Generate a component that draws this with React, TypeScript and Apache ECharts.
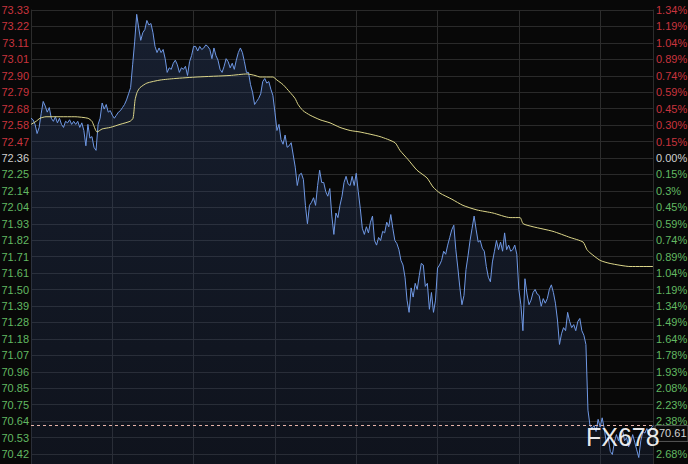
import React, { useEffect, useRef } from 'react';
import * as echarts from 'echarts';

// price axis reference (previous close) and one grid step
const BASE = 72.36;
const STEP = 0.1076;

const leftTicks = ['73.33','73.22','73.11','73.01','72.90','72.79','72.68','72.58','72.47','72.36','72.25','72.14','72.04','71.93','71.82','71.71','71.61','71.50','71.39','71.28','71.18','71.07','70.96','70.85','70.75','70.64','70.53','70.42'];
// the 2.53% tick is hidden behind the last-price tag in the reference
const rightTicks = ['1.34%','1.19%','1.04%','0.89%','0.74%','0.59%','0.45%','0.30%','0.15%','0.00%','0.15%','0.3%','0.45%','0.59%','0.74%','0.89%','1.04%','1.19%','1.34%','1.49%','1.64%','1.78%','1.93%','2.08%','2.23%','2.38%','','2.68%'];

// intraday price, one value per time step
const prices = [
  72.62,72.61,72.58,72.52,72.56,72.65,72.73,72.70,72.66,72.69,
  72.62,72.60,72.63,72.59,72.62,72.58,72.56,72.60,72.59,72.61,
  72.58,72.60,72.58,72.60,72.56,72.59,72.54,72.44,72.58,72.49,
  72.50,72.43,72.41,72.58,72.62,72.72,72.68,72.71,72.66,72.67,
  72.64,72.62,72.64,72.66,72.67,72.69,72.71,72.74,72.78,72.82,
  72.97,73.12,73.30,73.21,73.13,73.18,73.20,73.26,73.23,73.24,
  73.18,73.09,73.05,73.08,73.05,73.07,73.01,72.92,72.95,72.94,
  72.98,73.00,72.97,72.92,72.95,72.94,72.96,72.90,72.99,73.03,
  73.09,73.09,73.06,73.09,73.07,73.08,73.10,73.09,73.07,73.01,
  73.08,73.03,73.00,72.94,72.92,72.96,73.01,72.99,72.95,72.98,
  72.94,73.00,73.05,73.08,73.05,72.99,72.92,72.92,72.84,72.79,
  72.71,72.73,72.75,72.78,72.86,72.88,72.85,72.86,72.81,72.77,
  72.66,72.54,72.58,72.48,72.45,72.51,72.43,72.44,72.46,72.38,
  72.30,72.18,72.25,72.26,72.22,72.05,71.93,72.05,72.07,72.10,
  72.05,72.18,72.28,72.20,72.20,72.14,72.11,72.16,71.98,71.86,
  72.00,71.97,72.05,72.11,72.20,72.24,72.19,72.18,72.24,72.18,
  72.26,72.14,72.03,71.90,71.86,71.91,71.87,71.94,71.98,71.82,
  71.79,71.84,71.82,71.88,71.87,71.94,71.91,71.99,71.90,71.82,
  71.80,71.76,71.69,71.66,71.58,71.43,71.35,71.51,71.45,71.54,
  71.50,71.59,71.67,71.66,71.52,71.54,71.37,71.48,71.35,71.43,
  71.64,71.66,71.69,71.75,71.73,71.79,71.84,71.89,71.92,71.76,
  71.64,71.51,71.40,71.46,71.63,71.72,71.82,71.90,71.98,71.89,
  71.81,71.82,71.77,71.75,71.65,71.58,71.55,71.68,71.75,71.82,
  71.76,71.81,71.75,71.87,71.76,71.79,71.75,71.76,71.79,71.73,
  71.50,71.40,71.23,71.57,71.47,71.40,71.43,71.48,71.50,71.47,
  71.46,71.39,71.44,71.41,71.44,71.50,71.53,71.48,71.41,71.30,
  71.14,71.21,71.25,71.23,71.35,71.29,71.25,71.27,71.23,71.29,
  71.31,71.23,71.20,71.14,70.71,70.61,70.59,70.61,70.57,70.65,
  70.60,70.66,70.59,70.50,70.53,70.44,70.42,70.50,70.55,70.51,
  70.57,70.58,70.51,70.53,70.47,70.50,70.55,70.50,70.45,70.40,
  70.51,70.57,70.56,70.59,70.55,70.59,70.61
];

// average price line (time step, value)
const maTime = [0,2.5,4.4,7.4,14.3,21.6,28,30,32.5,35,39,43.8,48.7,50.2,51.2,52.2,53.6,57,63.5,70.8,81.7,97.9,106.3,110.2,112.7,119,121,124,127.4,129.9,131.4,133.8,137.3,142.2,147.1,152,157,161.9,171.7,179.1,181.5,185.5,189.9,194.8,197.8,201.2,207.1,212.5,219.4,227.3,235.7,240.6,242.1,247,256.8,265.2,271.6,273.5,275,280,284.9,294.7,306];
const maValue = [72.58,72.60,72.62,72.63,72.63,72.63,72.62,72.60,72.53,72.55,72.56,72.58,72.60,72.62,72.74,72.79,72.82,72.85,72.87,72.88,72.89,72.90,72.91,72.90,72.89,72.89,72.87,72.84,72.79,72.75,72.71,72.67,72.64,72.61,72.59,72.56,72.54,72.53,72.50,72.46,72.41,72.35,72.28,72.23,72.17,72.13,72.09,72.05,72.02,72.00,71.97,71.97,71.93,71.91,71.88,71.84,71.81,71.76,71.74,71.69,71.67,71.65,71.65];

const toStep = (p: number) => (p - BASE) / STEP;

const FONT = 'Liberation Sans, Arial, sans-serif';
const RED = '#c9343e';
const GREEN = '#62b862';
const NEUTRAL = '#cfcfcf';

function labelFmt(list: string[]) {
  return (v: number) => {
    const i = Math.round(9 - v);
    if (i < 0 || i >= list.length || !list[i]) return '';
    const k = i < 9 ? 'r' : i === 9 ? 'w' : 'g';
    return `{${k}|${list[i]}}`;
  };
}

const rich = {
  r: { color: RED, fontSize: 11, fontFamily: FONT },
  g: { color: GREEN, fontSize: 11, fontFamily: FONT },
  w: { color: NEUTRAL, fontSize: 11, fontFamily: FONT },
};

export default function App() {
  const ref = useRef<HTMLDivElement>(null);
  useEffect(() => {
    const chart = echarts.init(ref.current!, null, { renderer: 'svg' });
    const last = prices[prices.length - 1];
    const option: any = {
      animation: false,
      backgroundColor: '#080808',
      // the plot runs past the bottom edge so the fill reaches the page bottom
      grid: { left: 31, right: 35, top: 10, bottom: -6.44, outerBoundsMode: 'none', containLabel: false },
      xAxis: {
        type: 'value',
        min: 0,
        max: prices.length - 1,
        interval: 40,
        axisLine: { show: false },
        axisTick: { show: false },
        axisLabel: { show: false },
        splitLine: { show: true, lineStyle: { color: '#2c2c2c', width: 1 } },
      },
      yAxis: [
        {
          type: 'value',
          min: -19,
          max: 9,
          interval: 1,
          position: 'left',
          axisLine: { show: true, lineStyle: { color: '#2c2c2c' } },
          axisTick: { show: false },
          axisLabel: { formatter: labelFmt(leftTicks), rich, margin: 2, showMinLabel: false },
          splitLine: { show: true, lineStyle: { color: '#2a2a2a', width: 1 } },
        },
        {
          type: 'value',
          min: -19,
          max: 9,
          interval: 1,
          position: 'right',
          axisLine: { show: true, lineStyle: { color: '#2c2c2c' } },
          axisTick: { show: false },
          axisLabel: { formatter: labelFmt(rightTicks), rich, margin: 3, showMinLabel: false },
          splitLine: { show: false },
        },
      ],
      series: [
        {
          type: 'line',
          data: prices.map((p, i) => [i, toStep(p)]),
          showSymbol: false,
          lineStyle: { color: '#6f98e4', width: 1 },
          areaStyle: {
            origin: 'start',
            color: new echarts.graphic.LinearGradient(0, 0, 0, 1, [
              { offset: 0, color: 'rgba(52,76,125,0.48)' },
              { offset: 1, color: 'rgba(35,50,85,0.38)' },
            ]),
          },
          z: 3,
          markLine: {
            silent: true,
            symbol: 'none',
            data: [{ yAxis: toStep(last) }],
            lineStyle: { type: [3, 3], color: '#e6b2a8', width: 1 },
            label: { show: false },
          },
        },
        {
          type: 'line',
          data: maTime.map((t, i) => [t, toStep(maValue[i])]),
          showSymbol: false,
          smooth: 0.2,
          lineStyle: { color: '#dcd68a', width: 1 },
          z: 4,
        },
      ],
    };
    chart.setOption(option);

    // last-price tag placed from the chart's own scale
    const pt = chart.convertToPixel({ gridIndex: 0 }, [prices.length - 1, toStep(last)]) as number[];
    const tagX = pt[0] + 2;
    const tagY = pt[1];
    chart.setOption({
      graphic: [
        {
          type: 'rect',
          z: 90,
          shape: { x: tagX, y: tagY, width: 688 - tagX, height: 16 },
          style: { fill: '#0b0b0b', stroke: '#555555', lineWidth: 1 },
        },
        {
          type: 'text',
          z: 91,
          x: tagX + 4,
          y: tagY + 8,
          style: {
            text: last.toFixed(2),
            fill: '#d4d4d4',
            font: '11px ' + FONT,
            verticalAlign: 'middle',
          },
        },
        {
          type: 'text',
          z: 100,
          x: 586,
          y: 437,
          style: {
            text: 'FX678',
            fill: '#ffffff',
            font: '25px ' + FONT,
            verticalAlign: 'middle',
            opacity: 0.92,
          },
        },
      ],
    });
    return () => chart.dispose();
  }, []);
  return <div ref={ref} style={{ position: 'fixed', left: 0, top: 0, width: 688, height: 464 }} />;
}
